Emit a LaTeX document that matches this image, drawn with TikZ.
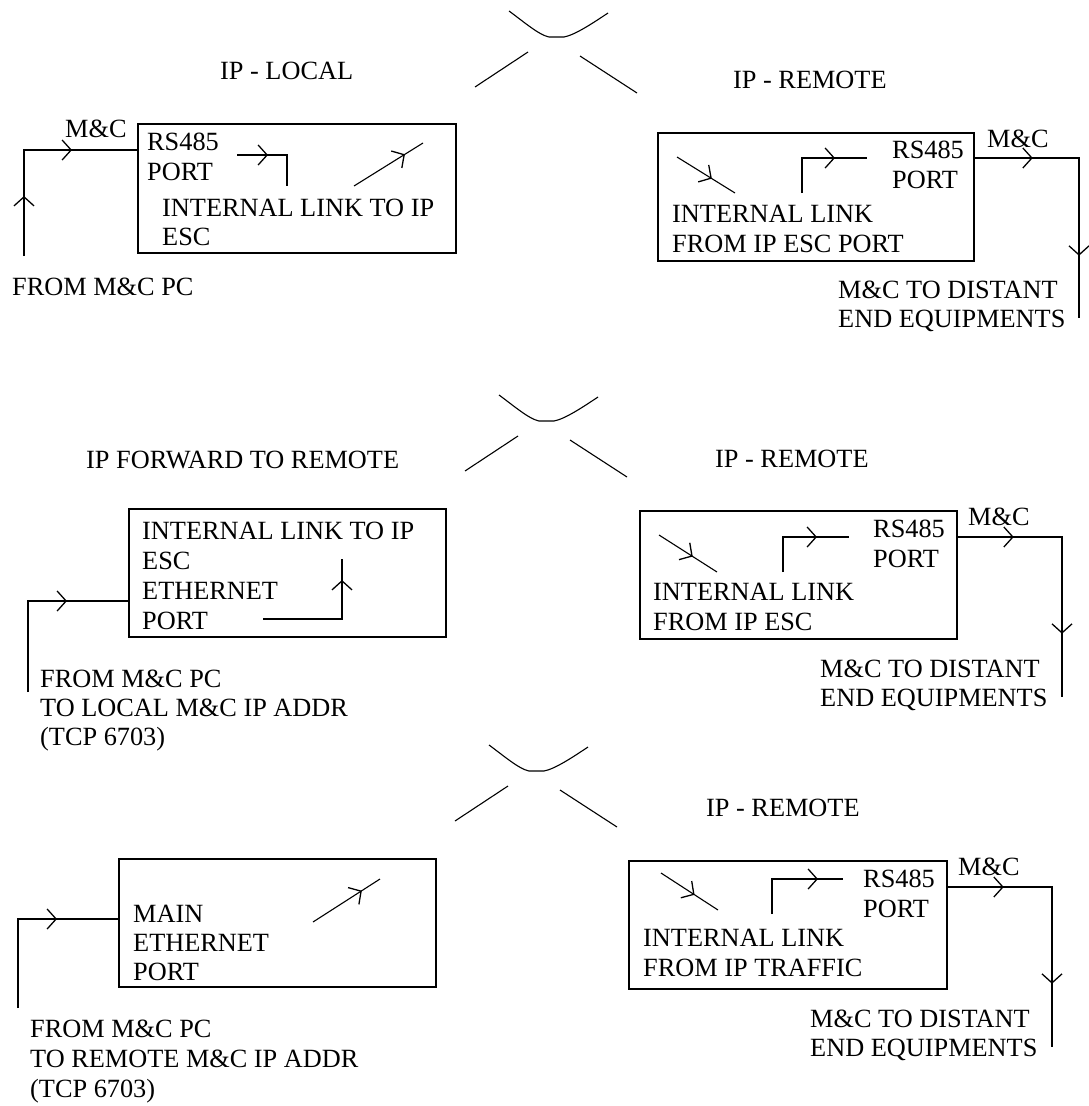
\documentclass[tikz,border=0pt]{standalone}
\usepackage{fontspec}
\setmainfont{Liberation Serif}
\usepackage{tikz}
\usetikzlibrary{arrows.meta, positioning, fit, decorations.markings}

\tikzset{chev/.tip={Straight Barb[length=9pt,width=20pt]}}

\begin{document}
\begin{tikzpicture}[
  x=1pt, y=-1pt,
  box/.style={rectangle, draw, line width=1.5pt, inner sep=0pt},
  lbl/.style={inner sep=0pt, align=left, font=\fontsize{26.3}{30}\selectfont},
  tight/.style={font=\fontsize{26.3}{29}\selectfont},
  wire/.style={line width=1.5pt},
  thinwire/.style={line width=1.1pt},
  midtip/.style={postaction={decorate, decoration={markings, mark=at position #1 with {\arrow[line width=1.3pt]{chev}}}}}
]
  \useasboundingbox (0,0) rectangle (1088,1106);

  \foreach \dx/\dy in {509/11, 499/395, 489/745} {
    \begin{scope}[shift={(\dx,\dy)}]
      \draw[thinwire] (0,0) .. controls (15,11) and (30,24) .. (40,26) -- (55,26) .. controls (66,24) and (84,12) .. (99,2);
      \draw[thinwire] (-34,76) -- (19,41);
      \draw[thinwire] (71,45) -- (128,82);
    \end{scope}
  }

  \node[box, fit={(138,124) (456,253)}] (iplocal) {};
  \node[lbl, anchor=base west] (titleA) at (220,79) {IP - LOCAL};
  \node[lbl, anchor=base west] (portA) at (147,180) {RS485\\PORT};
  \node[lbl, tight, anchor=base west] (linkA) at (162,245) {INTERNAL LINK TO IP\\ESC};
  \node[lbl, anchor=base west] (mcA) at (65,137) {M\&C};
  \node[lbl, anchor=base west] (pcA) at (12,295) {FROM M\&C PC};
  \coordinate (srcA) at (24,256);
  \coordinate (bendA) at (24,150);
  \draw[wire, midtip=60pt, midtip=154pt] (srcA) -- (bendA) -- (bendA -| iplocal.west);
  \coordinate (escA1) at (237,155);
  \coordinate (escA2) at (287,186);
  \draw[wire, midtip=31pt] (escA1) -| (escA2);
  \coordinate (ipA1) at (354,186);
  \coordinate (ipA2) at (423,143);
  \draw[thinwire, midtip=60pt] (ipA1) -- (ipA2);

  \node[box, fit={(658,133) (974,261)}] (remoteA) {};
  \node[lbl, anchor=base west] (titleB) at (733,88) {IP - REMOTE};
  \node[lbl, anchor=base west] (portB) at (892,188) {RS485\\PORT};
  \node[lbl, anchor=base west] (linkB) at (672,252) {INTERNAL LINK\\FROM IP ESC PORT};
  \node[lbl, anchor=base west] (mcB) at (987,147) {M\&C};
  \node[lbl, tight, anchor=base west] (distB) at (838,327) {M\&C TO DISTANT\\END EQUIPMENTS};
  \coordinate (dropB) at (1079,158);
  \coordinate (endB) at (1079,318);
  \draw[wire, midtip=58pt, midtip=202pt] (dropB -| remoteA.east) -- (dropB) -- (endB);
  \coordinate (escB1) at (802,193);
  \coordinate (escB2) at (867,158);
  \draw[wire, midtip=68pt] (escB1) |- (escB2);
  \coordinate (ipB1) at (677,157);
  \coordinate (ipB2) at (735,193);
  \draw[thinwire, midtip=41pt] (ipB1) -- (ipB2);

  \node[box, fit={(129,509) (446,637)}] (fwd) {};
  \node[lbl, anchor=base west] (titleC) at (86,468) {IP FORWARD TO REMOTE};
  \node[lbl, anchor=base west] (linkC) at (142,629) {INTERNAL LINK TO IP\\ESC\\ETHERNET\\PORT};
  \node[lbl, tight, anchor=base west] (pcC) at (40,745) {FROM M\&C PC\\TO LOCAL M\&C IP ADDR\\(TCP 6703)};
  \coordinate (srcC) at (28,692);
  \coordinate (bendC) at (28,601);
  \draw[wire, midtip=130pt] (srcC) -- (bendC) -- (bendC -| fwd.west);
  \coordinate (escC1) at (263,619);
  \coordinate (escC2) at (342,559);
  \draw[wire, midtip=118pt] (escC1) -| (escC2);

  \node[box, fit={(640,511) (957,639)}] (remoteB) {};
  \node[lbl, anchor=base west] (titleD) at (715,467) {IP - REMOTE};
  \node[lbl, anchor=base west] (portD) at (873,567) {RS485\\PORT};
  \node[lbl, anchor=base west] (linkD) at (653,630) {INTERNAL LINK\\FROM IP ESC};
  \node[lbl, anchor=base west] (mcD) at (968,525) {M\&C};
  \node[lbl, tight, anchor=base west] (distD) at (820,706) {M\&C TO DISTANT\\END EQUIPMENTS};
  \coordinate (dropD) at (1062,537);
  \coordinate (endD) at (1062,697);
  \draw[wire, midtip=56pt, midtip=201pt] (dropD -| remoteB.east) -- (dropD) -- (endD);
  \coordinate (escD1) at (783,572);
  \coordinate (escD2) at (849,537);
  \draw[wire, midtip=69pt] (escD1) |- (escD2);
  \coordinate (ipD1) at (659,535);
  \coordinate (ipD2) at (717,572);
  \draw[thinwire, midtip=40pt] (ipD1) -- (ipD2);

  \node[box, fit={(119,859) (436,987)}] (mainport) {};
  \node[lbl, tight, anchor=base west] (linkE) at (133,980) {MAIN\\ETHERNET\\PORT};
  \node[lbl, anchor=base west] (pcE) at (30,1097) {FROM M\&C PC\\TO REMOTE M\&C IP ADDR\\(TCP 6703)};
  \coordinate (srcE) at (18,1008);
  \coordinate (bendE) at (18,919);
  \draw[wire, midtip=128pt] (srcE) -- (bendE) -- (bendE -| mainport.west);
  \coordinate (ipE1) at (313,922);
  \coordinate (ipE2) at (380,879);
  \draw[thinwire, midtip=58pt] (ipE1) -- (ipE2);

  \node[box, fit={(629,861) (947,989)}] (remoteC) {};
  \node[lbl, anchor=base west] (titleF) at (706,816) {IP - REMOTE};
  \node[lbl, anchor=base west] (portF) at (863,917) {RS485\\PORT};
  \node[lbl, anchor=base west] (linkF) at (643,976) {INTERNAL LINK\\FROM IP TRAFFIC};
  \node[lbl, anchor=base west] (mcF) at (958,875) {M\&C};
  \node[lbl, tight, anchor=base west] (distF) at (810,1056) {M\&C TO DISTANT\\END EQUIPMENTS};
  \coordinate (dropF) at (1052,887);
  \coordinate (endF) at (1052,1047);
  \draw[wire, midtip=56pt, midtip=201pt] (dropF -| remoteC.east) -- (dropF) -- (endF);
  \coordinate (escF1) at (772,914);
  \coordinate (escF2) at (843,879);
  \draw[wire, midtip=81pt] (escF1) |- (escF2);
  \coordinate (ipF1) at (661,873);
  \coordinate (ipF2) at (718,910);
  \draw[thinwire, midtip=40pt] (ipF1) -- (ipF2);
\end{tikzpicture}
\end{document}
